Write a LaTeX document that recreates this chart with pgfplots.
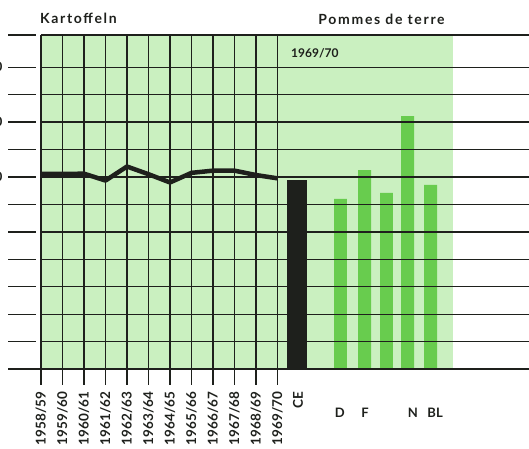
\documentclass[border=0pt]{standalone}
\usepackage{pgfplots}
\pgfplotsset{compat=1.18}
\usepackage{fontspec}
\setmainfont{Lato}
\usetikzlibrary{calc}
\definecolor{pale}{RGB}{202,240,192}
\definecolor{bargreen}{RGB}{104,204,78}
\definecolor{ink}{RGB}{30,32,28}
\tikzset{lab/.style={font=\bfseries\fontsize{13}{14}\selectfont, text=ink},
  yr/.style={font=\bfseries\fontsize{13.5}{14}\selectfont, text=ink, rotate=90, anchor=east, inner sep=0pt},
  ttl/.style={font=\bfseries\fontsize{14}{16}\selectfont\addfontfeature{LetterSpace=12}, text=ink}}
\begin{document}
\begin{tikzpicture}
\begin{axis}[
  name=ax, scale only axis, width=488.05pt, height=334.05pt,
  xmin=0, xmax=22.7, ymin=30, ymax=151.7,
  hide axis, clip mode=individual,
]
% background
\fill[pale] (axis cs:0,30) rectangle (axis cs:19.16,151.7);
% bars 1969/70
\addplot[ybar, bar width=0.93, bar shift=0pt, fill=ink, draw=none] coordinates {(11.91,98.9)};
\addplot[ybar, bar width=0.6, bar shift=0pt, fill=bargreen, draw=none] coordinates {(13.93,92.0) (15.05,102.5) (16.07,94.2) (17.05,122.2) (18.12,97.1)};
% horizontal grid
\pgfplotsinvokeforeach{40,50,60,70,80,90,110,120,130,140,151.7}{
  \draw[ink, line width=1.3pt] (axis cs:0,#1) -- (axis cs:22.7,#1);
  \draw[ink, line width=1.3pt] (axis cs:-1.53,#1) -- (axis cs:-0.23,#1);
}
\draw[ink, line width=2.6pt] (axis cs:0,100) -- (axis cs:22.7,100);
\draw[ink, line width=2.6pt] (axis cs:-1.53,100) -- (axis cs:-0.23,100);
\draw[ink, line width=1.5pt] (axis cs:-1.53,30) -- (axis cs:22.7,30);
% vertical grid
\pgfplotsinvokeforeach{0,1,2,3,4,5,6,7,8,9,10,11}{
  \draw[ink, line width=1.3pt] (axis cs:#1,151.7) -- (axis cs:#1,24.2);
}
% index line
\addplot[ink, line width=4.5pt, line join=round] coordinates {
 (0,101.1) (1,101.1) (2,101.2) (3,98.7) (4,103.8) (5,101.0)
 (6,98.0) (7,101.5) (8,102.3) (9,102.3) (10,100.7) (11,99.5)};
% texts
\node[ttl, anchor=west, inner sep=0pt] at (axis cs:-0.05,157.9) {Kartoffeln};
\node[ttl] at (axis cs:15.84,157.3) {Pommes de terre};
\node[lab, anchor=west, inner sep=0pt, font=\bfseries\fontsize{12}{13}\selectfont] at (axis cs:11.63,145.2) {1969/70};
\node[lab, anchor=east, inner sep=0pt] at (axis cs:-1.79,140) {140};
\node[lab, anchor=east, inner sep=0pt] at (axis cs:-1.79,120) {120};
\node[lab, anchor=east, inner sep=0pt] at (axis cs:-1.79,100) {100};
\node[yr] at (axis cs:0,21.8) {1958/59};
\node[yr] at (axis cs:1,21.8) {1959/60};
\node[yr] at (axis cs:2,21.8) {1960/61};
\node[yr] at (axis cs:3,21.8) {1961/62};
\node[yr] at (axis cs:4,21.8) {1962/63};
\node[yr] at (axis cs:5,21.8) {1963/64};
\node[yr] at (axis cs:6,21.8) {1964/65};
\node[yr] at (axis cs:7,21.8) {1965/66};
\node[yr] at (axis cs:8,21.8) {1966/67};
\node[yr] at (axis cs:9,21.8) {1967/68};
\node[yr] at (axis cs:10,21.8) {1968/69};
\node[yr] at (axis cs:11,21.8) {1969/70};
\node[yr] at (axis cs:11.95,21.8) {CE};
\node[lab] at (axis cs:13.9,14.0) {D};
\node[lab] at (axis cs:15.07,14.0) {F};
\node[lab] at (axis cs:17.3,14.0) {N};
\node[lab] at (axis cs:18.33,14.0) {BL};
\end{axis}
\pgfresetboundingbox
\path ($(ax.south west)+(-41pt,-78.9pt)$) rectangle ($(ax.south west)+(488pt,369.1pt)$);
\end{tikzpicture}
\end{document}
